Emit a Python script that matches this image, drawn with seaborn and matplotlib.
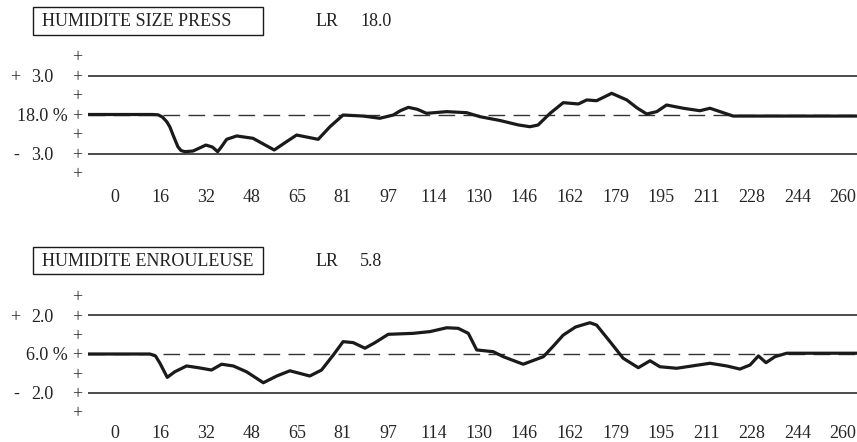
import seaborn as sns
import matplotlib.pyplot as plt
import pandas as pd
from matplotlib.patches import Rectangle

# donnees
x_labels = ['0', '16', '32', '48', '65', '81', '97', '114', '130', '146',
            '162', '179', '195', '211', '228', '244', '260']

top_title = 'HUMIDITE SIZE PRESS'
top_lr = '18.0'
top_target = 18.0
top_tol = 3.0
top_x = [-9.6, 13.6, 15.5, 17.0, 18.5, 19.6, 21.0, 22.5, 23.6, 25.0, 27.9, 30.5,
         32.5, 34.8, 36.7, 38.0, 39.9, 43.5, 49.3, 56.9, 61.3, 64.9, 72.6, 76.8,
         81.5, 88.7, 94.6, 99.4, 102.0, 104.8, 108.0, 111.3, 118.5, 125.6, 130.4,
         137.5, 144.0, 148.2, 151.1, 155.4, 160.1, 165.5, 168.5, 172.0, 177.4,
         182.8, 186.5, 189.9, 193.5, 197.0, 203.0, 208.9, 212.5, 216.1, 220.8, 265]
top_y = [18.0, 18.0, 17.97, 17.8, 17.45, 17.06, 16.3, 15.52, 15.23, 15.14, 15.19,
         15.45, 15.65, 15.5, 15.14, 15.5, 16.09, 16.35, 16.17, 15.27, 15.91,
         16.42, 16.09, 17.06, 17.96, 17.88, 17.71, 17.96, 18.3, 18.55, 18.4,
         18.09, 18.22, 18.14, 17.83, 17.54, 17.2, 17.06, 17.19, 18.09, 18.91,
         18.81, 19.12, 19.06, 19.63, 19.12, 18.5, 18.04, 18.22, 18.73, 18.48,
         18.29, 18.48, 18.22, 17.88, 17.88]

bot_title = 'HUMIDITE ENROULEUSE'
bot_lr = '5.8'
bot_target = 6.0
bot_tol = 2.0
bot_x = [-9.6, 12.5, 14.5, 16.1, 18.7, 21.4, 25.6, 29.8, 34.5, 38.1, 42.3, 47.0,
         50.5, 53.0, 57.8, 62.5, 69.6, 73.8, 78.0, 81.5, 85.1, 89.3, 92.9, 97.6,
         106.5, 112.5, 118.5, 122.6, 126.2, 129.2, 135.1, 138.7, 145.8, 153.0,
         156.5, 160.1, 164.5, 169.6, 172.0, 176.8, 181.5, 186.9, 191.1, 194.6,
         200.6, 212.5, 218.5, 223.2, 226.8, 229.8, 232.5, 235.7, 239.9, 265]
bot_y = [6.0, 6.0, 5.9, 5.52, 4.79, 5.08, 5.38, 5.29, 5.17, 5.47, 5.38, 5.08,
         4.75, 4.51, 4.86, 5.13, 4.86, 5.17, 5.95, 6.64, 6.59, 6.30, 6.59, 7.02,
         7.07, 7.16, 7.36, 7.33, 7.07, 6.21, 6.12, 5.86, 5.47, 5.86, 6.4, 6.98,
         7.4, 7.62, 7.50, 6.64, 5.78, 5.29, 5.65, 5.34, 5.26, 5.52, 5.38, 5.22,
         5.43, 5.90, 5.55, 5.86, 6.04, 6.04]

sns.set_theme(style='white')
plt.rcParams['font.family'] = ['Liberation Serif', 'DejaVu Serif']
plt.rcParams['text.color'] = '#222222'

W, H = 857, 442
fig = plt.figure(figsize=(W / 100, H / 100), dpi=100)
ink = '#1a1a1a'
fs = 13


def panel(top_px, title, lr, target, tol, xs, ys, half, xpad):
    # axes de 130 px de haut, a partir de x=88 px
    ax = fig.add_axes([88 / W, 1 - (top_px + 130) / H, (W - 88) / W, 130 / H])
    df = pd.DataFrame({'x': xs, 'y': ys})
    ax.axhline(target + tol, color=ink, lw=1.1)
    ax.axhline(target - tol, color=ink, lw=1.1)
    ax.axhline(target, color='#333333', lw=1.0, dashes=(12, 6))
    sns.lineplot(data=df, x='x', y='y', ax=ax, color=ink, lw=2.3, sort=False)
    ax.set_xlim(-9.6, 265)
    ax.set_ylim(target - half, target + half)
    ax.set_xticks([i * 16.25 for i in range(len(x_labels))])
    ax.set_xticklabels(x_labels, fontsize=fs)
    step = tol / 2
    ax.set_yticks([target + k * step for k in range(-3, 4)])
    ax.set_yticklabels(['+'] * 7, fontsize=fs)
    ax.tick_params(length=0, pad=4)
    ax.tick_params(axis='x', pad=xpad)
    ax.set_xlabel('')
    ax.set_ylabel('')
    sns.despine(ax=ax, left=True, bottom=True)
    for s in ax.spines.values():
        s.set_visible(False)
    tr = ax.get_yaxis_transform()
    fx = lambda px: (px - 88) / (W - 88)
    ax.text(fx(15), target + tol, '+', transform=tr, ha='center', va='center_baseline', fontsize=fs)
    ax.text(fx(53), target + tol, f'{tol:.1f}', transform=tr, ha='right', va='center_baseline', fontsize=fs)
    ax.text(fx(68), target, f'{target:.1f} %', transform=tr, ha='right', va='center_baseline', fontsize=fs)
    ax.text(fx(16), target - tol, '-', transform=tr, ha='center', va='center_baseline', fontsize=fs)
    ax.text(fx(53), target - tol, f'{tol:.1f}', transform=tr, ha='right', va='center_baseline', fontsize=fs)

    # cadre du titre
    box_top = top_px - 42
    fig.add_artist(Rectangle((33 / W, 1 - (box_top + 27) / H), 230 / W, 27 / H,
                             transform=fig.transFigure, fill=False, ec=ink, lw=1.0))
    yc = 1 - (box_top + 14) / H
    fig.text(42 / W, yc, title, ha='left', va='center', fontsize=fs)
    fig.text(316 / W, yc, 'LR', ha='left', va='center', fontsize=fs)
    fig.text(360 / W, yc, lr, ha='left', va='center', fontsize=fs)
    return ax


panel(49.5, top_title, top_lr, top_target, top_tol, top_x, top_y, 5.0, 6.5)
panel(289, bot_title, bot_lr, bot_target, bot_tol, bot_x, bot_y, 65 / 19.3, 4.5)

fig.savefig('out.png', dpi=100)
